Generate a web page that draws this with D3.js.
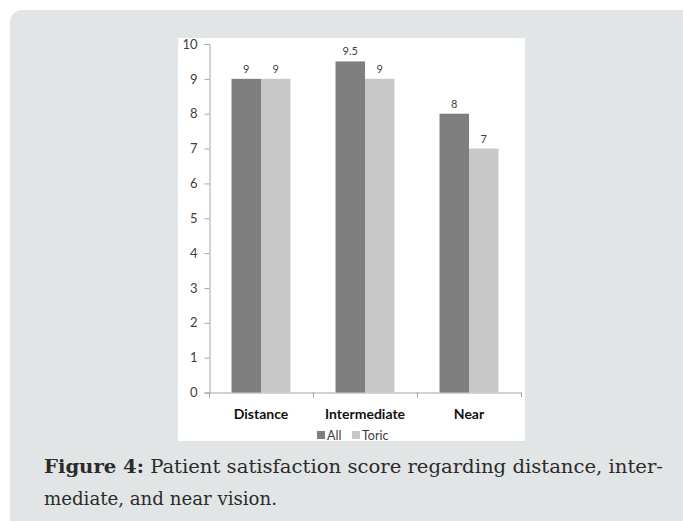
<!DOCTYPE html>
<html><head><meta charset="utf-8">
<script src="https://cdn.jsdelivr.net/npm/d3@7"></script>
<style>html,body{margin:0;padding:0;background:#fff;}svg{display:block;}</style>
</head><body>
<script>
const categories = ["Distance", "Intermediate", "Near"];
const seriesNames = ["All", "Toric"];
const allValues = [9, 9.5, 8];
const toricValues = [9, 9, 7];
const yTicks = [0,1,2,3,4,5,6,7,8,9,10];
const captionBold = "Figure 4:";
const captionLine1 = " Patient satisfaction score regarding distance, inter-";
const captionLine2 = "mediate, and near vision.";

const colors = {All: "#7f7f7f", Toric: "#c8c8c8"};
const W = 683, H = 521;
const svg = d3.select("body").append("svg").attr("width", W).attr("height", H);

// panel
svg.append("rect").attr("x", 10).attr("y", 10).attr("width", 685).attr("height", 521)
  .attr("rx", 12).attr("fill", "#e2e5e6");
// white chart area
svg.append("rect").attr("x", 178).attr("y", 38).attr("width", 347).attr("height", 403).attr("fill", "#fff");

const y = d3.scaleLinear().domain([0, 10]).range([392.5, 44]);
const x0 = d3.scaleBand().domain(categories).range([209, 521]).padding(0);
const x1 = d3.scaleBand().domain(seriesNames).range([0, x0.bandwidth()]).paddingInner(0).paddingOuter(0.7627);

const font = "Lato, 'Open Sans', sans-serif";

// y axis
const yAxis = d3.axisLeft(y).tickValues(yTicks).tickSize(5).tickPadding(7).tickSizeOuter(5);
const gy = svg.append("g").attr("transform", "translate(209.5,0)").call(yAxis);
gy.selectAll("path,line").attr("stroke", "#a6a6a6");
gy.selectAll("text").attr("font-family", font).attr("font-size", 13).attr("fill", "#404040");

// x axis
const xAxis = d3.axisBottom(x0).tickSize(0).tickFormat("");
const gx = svg.append("g").attr("transform", `translate(0,${y(0)})`).call(xAxis);
gx.select("path").attr("stroke", "#a6a6a6");
const bounds = [x0.range()[0], ...categories.map(c => x0(c) + x0.bandwidth())];
svg.append("g").selectAll("line").data(bounds).join("line")
  .attr("x1", d => d + 0.5).attr("x2", d => d + 0.5)
  .attr("y1", y(0)).attr("y2", y(0) + 5).attr("stroke", "#a6a6a6");

// category labels
svg.append("g").selectAll("text").data(categories).join("text")
  .attr("x", d => x0(d) + x0.bandwidth() / 2).attr("y", 419)
  .attr("text-anchor", "middle").attr("font-family", font).attr("font-weight", "bold")
  .attr("font-size", 14).attr("fill", "#111").text(d => d);

// bars
const data = categories.map((c, i) => ({cat: c, vals: [{s: "All", v: allValues[i]}, {s: "Toric", v: toricValues[i]}]}));
const groups = svg.append("g").selectAll("g").data(data).join("g")
  .attr("transform", d => `translate(${x0(d.cat)},0)`);
groups.selectAll("rect").data(d => d.vals).join("rect")
  .attr("x", d => x1(d.s)).attr("y", d => y(d.v))
  .attr("width", x1.bandwidth()).attr("height", d => y(0) - y(d.v))
  .attr("fill", d => colors[d.s]);
groups.selectAll("text").data(d => d.vals).join("text")
  .attr("x", d => x1(d.s) + x1.bandwidth() / 2).attr("y", d => y(d.v) - 6)
  .attr("text-anchor", "middle").attr("font-family", font).attr("font-size", 11)
  .attr("fill", "#404040").text(d => d.v);

// legend
const legendItems = [{s: "All", x: 317}, {s: "Toric", x: 352}];
const lg = svg.append("g").selectAll("g").data(legendItems).join("g");
lg.append("rect").attr("x", d => d.x).attr("y", 431).attr("width", 8).attr("height", 8)
  .attr("fill", d => colors[d.s]);
lg.append("text").attr("x", d => d.x + 10).attr("y", 439.5)
  .attr("font-family", font).attr("font-size", 12.5).attr("fill", "#404040").text(d => d.s);

// caption
const serif = "'DejaVu Serif Condensed', 'DejaVu Serif', serif";
const cap = svg.append("text").attr("x", 44).attr("y", 473)
  .attr("font-family", serif).attr("font-stretch", "condensed").attr("font-size", 19).attr("fill", "#2b2b2b")
  .attr("textLength", 619).attr("lengthAdjust", "spacingAndGlyphs");
cap.append("tspan").attr("font-weight", "bold").text(captionBold);
cap.append("tspan").text(captionLine1);
svg.append("text").attr("x", 44).attr("y", 505)
  .attr("font-family", serif).attr("font-stretch", "condensed").attr("font-size", 19).attr("fill", "#2b2b2b")
  .attr("textLength", 233).attr("lengthAdjust", "spacingAndGlyphs")
  .text(captionLine2);
</script>
</body></html>
